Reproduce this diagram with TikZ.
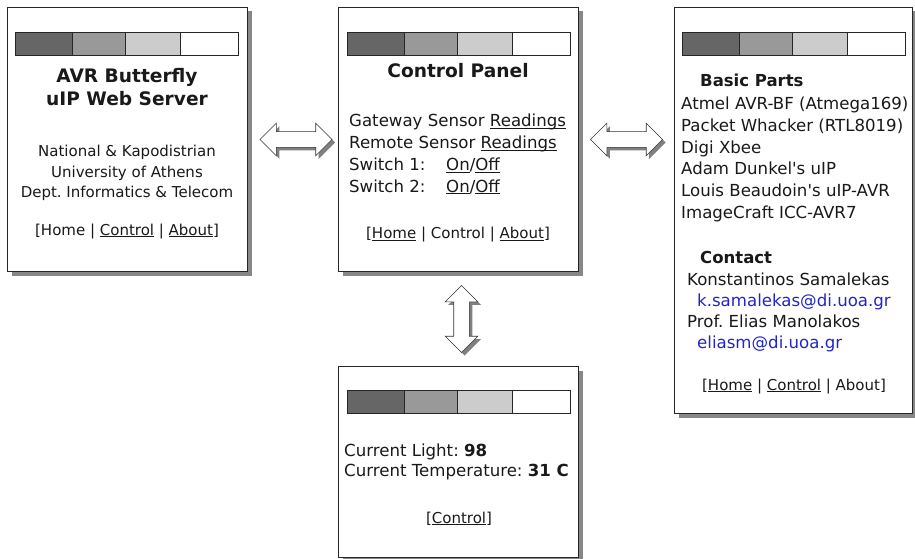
\documentclass[tikz,border=0pt]{standalone}
\usepackage{fontspec}
\setmainfont{DejaVu Sans}
\usetikzlibrary{shapes.arrows,shadows,calc}

\definecolor{barA}{HTML}{666666}
\definecolor{barB}{HTML}{999999}
\definecolor{barC}{HTML}{CCCCCC}
\definecolor{mailblue}{HTML}{2424CC}

% underlined link text, rule just under the baseline
\newcommand{\lnk}[1]{\setbox0=\hbox{#1}\rlap{\rule[-2pt]{\wd0}{0.8pt}}\box0\relax}

% four grey cells at the top of every page
\newcommand{\statusbar}[1]{%
  \foreach \a/\b/\c in {0/57/barA,57/110/barB,110/165/barC,165/223/white}
    \draw[draw=black!85, line width=0.8pt, fill=\c] ($(#1)+(\a,0)$) rectangle ($(#1)+(\b,23)$);}

\tikzset{
  page/.style={draw=black!85, fill=white, line width=1pt, anchor=north west,
    inner sep=0pt, minimum width=240pt,
    drop shadow={shadow xshift=4pt, shadow yshift=-4pt, fill=black!47, opacity=1}},
  twoway/.style={double arrow, draw=black!80, fill=white, line width=0.6pt,
    minimum height=72pt, minimum width=32pt, double arrow head extend=8.5pt,
    inner sep=7.5pt,
    drop shadow={shadow xshift=3pt, shadow yshift=-3pt, fill=black!50, opacity=1}},
  txt/.style={inner sep=0pt, text=black!90},
  big/.style={font=\fontsize{18.6}{22}\selectfont\bfseries},
  head/.style={font=\fontsize{16.5}{20}\selectfont\bfseries},
  small/.style={font=\fontsize{15}{20}\selectfont},
  body/.style={font=\fontsize{16.6}{20}\selectfont},
}

\begin{document}
\frenchspacing
\begin{tikzpicture}[x=1pt, y=-1pt]
  \useasboundingbox (0,0) rectangle (915,559);

  % the four pages
  \node[page, minimum height=264pt] (srv) at (7,7) {};
  \node[page, minimum height=264pt] (ctrl) at (338,7) {};
  \node[page, minimum width=238pt, minimum height=406pt] (about) at (674,7) {};
  \node[page, minimum height=191pt] (sens) at (338,366) {};

  \coordinate (srvbar) at ($(srv.north west)+(8,25)$);
  \coordinate (ctrlbar) at ($(ctrl.north west)+(9,25)$);
  \coordinate (aboutbar) at ($(about.north west)+(8,25)$);
  \coordinate (sensbar) at ($(sens.north west)+(9,24)$);
  \statusbar{srvbar}
  \statusbar{ctrlbar}
  \statusbar{aboutbar}
  \statusbar{sensbar}

  % links between the pages
  \node[twoway] (srvctrl) at ($(srv.east)!0.5!(ctrl.west)+(3,0)$) {};
  \node[twoway] (ctrlabout) at ($(ctrl.east)!0.5!(ctrl.east -| about.west)$) {};
  \node[twoway, minimum height=67pt, shape border rotate=90] (ctrlsens)
    at ($(ctrl.south)!0.5!(sens.north)+(3,0)$) {};

  % home page
  \node[txt, big, anchor=base] (srvtitle) at (127,83) {AVR Butterfly};
  \node[txt, big, anchor=base] (srvsub) at (127,106) {uIP Web Server};
  \node[txt, small, anchor=base] (uni1) at (127,157) {National \& Kapodistrian};
  \node[txt, small, anchor=base] (uni2) at (127,177) {University of Athens};
  \node[txt, small, anchor=base] (uni3) at (127,197) {Dept. Informatics \& Telecom};
  \node[txt, small, anchor=base] (srvnav) at (127,235) {[Home | \lnk{Control} | \lnk{About}]};

  % control page
  \node[txt, big, anchor=base] (ctrltitle) at (458,78) {Control Panel};
  \node[txt, body, anchor=base west] (gw) at (349,127) {Gateway Sensor \lnk{Readings}};
  \node[txt, body, anchor=base west] (rem) at (349,148.7) {Remote Sensor \lnk{Readings}};
  \node[txt, body, anchor=base west] (sw1) at (349,170.4) {Switch 1:};
  \node[txt, body, anchor=base west] (sw1on) at (446,170.4) {\lnk{On}/\lnk{Off}};
  \node[txt, body, anchor=base west] (sw2) at (349,192.1) {Switch 2:};
  \node[txt, body, anchor=base west] (sw2on) at (446,192.1) {\lnk{On}/\lnk{Off}};
  \node[txt, small, anchor=base] (ctrlnav) at (458,238.5) {[\lnk{Home} | Control | \lnk{About}]};

  % about page
  \node[txt, head, anchor=base west] (parts) at (700,87) {Basic Parts};
  \foreach \p [count=\i] in {Atmel AVR-BF (Atmega169), Packet Whacker (RTL8019), Digi Xbee,
      Adam Dunkel\textquotesingle s uIP, Louis Beaudoin\textquotesingle s uIP-AVR, ImageCraft ICC-AVR7}
    \node[txt, body, anchor=base west] (part\i) at (681,88.4+21.6*\i) {\p};
  \node[txt, head, anchor=base west] (contact) at (700,263) {Contact};
  \node[txt, body, anchor=base west] (name1) at (687,285) {Konstantinos Samalekas};
  \node[txt, body, anchor=base west, text=mailblue] (mail1) at (697,306) {k.samalekas@di.uoa.gr};
  \node[txt, body, anchor=base west] (name2) at (687,327) {Prof. Elias Manolakos};
  \node[txt, body, anchor=base west, text=mailblue] (mail2) at (697,348) {eliasm@di.uoa.gr};
  \node[txt, small, anchor=base] (aboutnav) at (794,390) {[\lnk{Home} | \lnk{Control} | About]};

  % sensor page
  \node[txt, body, anchor=base west] (light) at (344,456) {Current Light: \textbf{98}};
  \node[txt, body, anchor=base west] (temp) at (344,476) {Current Temperature: \textbf{31 C}};
  \node[txt, small, anchor=base] (sensnav) at (459,523) {[\lnk{Control}]};
\end{tikzpicture}
\end{document}
